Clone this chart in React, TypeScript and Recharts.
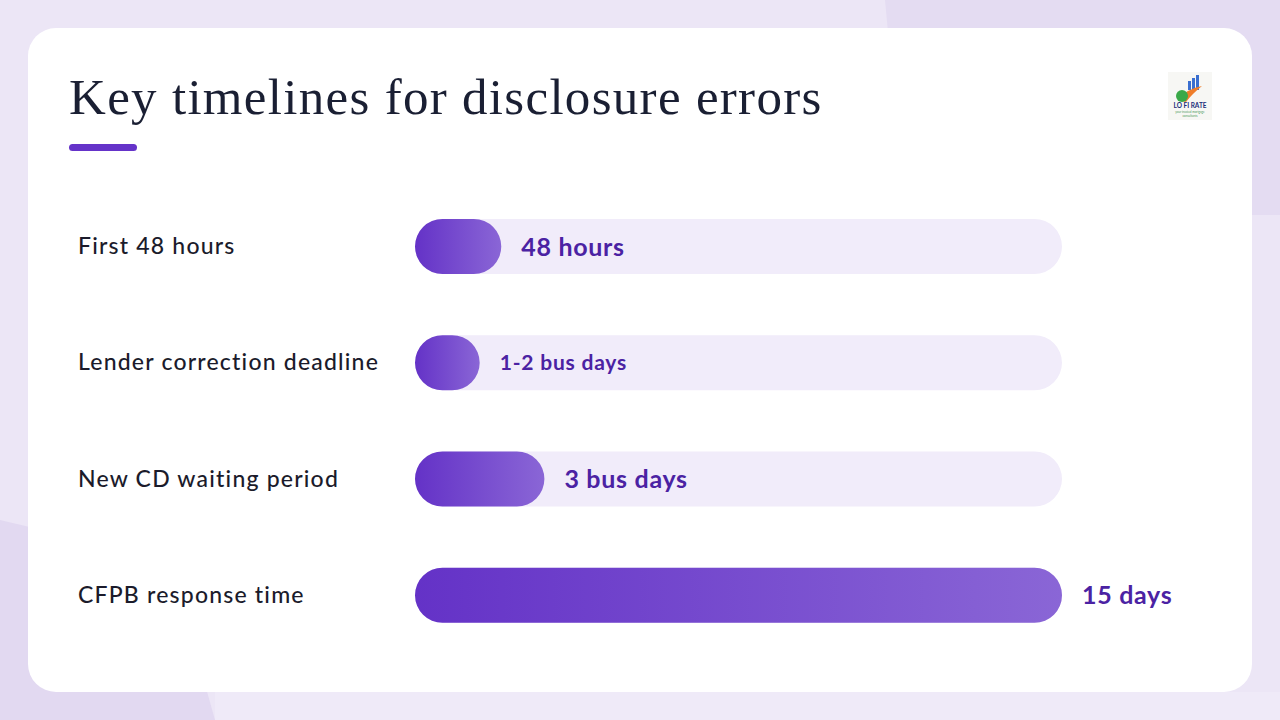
import { BarChart, Bar, XAxis, YAxis, LabelList } from 'recharts';

// timeline rows, top to bottom
const categories = ['First 48 hours', 'Lender correction deadline', 'New CD waiting period', 'CFPB response time'];
const durationDays = [2, 1.5, 3, 15];
const valueLabels = ['48 hours', '1-2 bus days', '3 bus days', '15 days'];

const chartData = categories.map((name, i) => ({
  name,
  days: durationDays[i],
  label: valueLabels[i],
}));

const SANS = 'Lato, "Open Sans", sans-serif';

function CategoryTick({ y, payload }: any) {
  return (
    <text x={78} y={y} dy={8} textAnchor="start" fill="#1b1b2b" fontFamily={SANS} fontSize={23} fontWeight={500} letterSpacing={1.2}>
      {payload.value}
    </text>
  );
}

function ValueLabel({ x, y, width, height, value }: any) {
  // longer labels were set a bit smaller in the original
  const small = String(value).length > 10;
  return (
    <text
      x={x + width + 20}
      y={y + height / 2}
      dy={small ? 7 : 9}
      textAnchor="start"
      fill="#4b22a3"
      fontFamily={SANS}
      fontSize={small ? 21 : 25}
      fontWeight={700}
      letterSpacing={small ? 0.8 : 0.7}
    >
      {value}
    </text>
  );
}

function Logo() {
  return (
    <svg x={1168} y={72} width={44} height={48} viewBox="0 0 44 48">
      <rect width={44} height={48} fill="#f7f7f4" />
      <rect x={24} y={6} width={3} height={12} fill="#3a6fd0" />
      <rect x={28} y={3} width={3} height={15} fill="#3a6fd0" />
      <rect x={20} y={9} width={3} height={9} fill="#3a6fd0" />
      <path d="M10 28 Q20 16 34 14 Q24 22 18 30 Z" fill="#ef7d2a" />
      <circle cx={14} cy={24} r={6} fill="#3aa948" />
      <text x={22} y={36} textAnchor="middle" fontSize={6.5} fontWeight={700} fill="#1b2f7a" fontFamily={SANS}>LO FI RATE</text>
      <text x={22} y={41} textAnchor="middle" fontSize={3} fill="#4b9a5a" fontFamily={SANS}>your trusted mortgage</text>
      <text x={22} y={45} textAnchor="middle" fontSize={3} fill="#4b9a5a" fontFamily={SANS}>consultants</text>
    </svg>
  );
}

export default function App() {
  return (
    <div style={{ position: 'fixed', left: 0, top: 0, width: 1280, height: 720, overflow: 'hidden', background: '#ece6f6' }}>
      <svg width={1280} height={720} style={{ position: 'absolute', left: 0, top: 0 }}>
        <polygon points="885,0 1280,0 1280,215 905,215" fill="#e4dcf2" />
        <polygon points="0,520 170,560 215,720 0,720" fill="#e2d9f1" />
        <polygon points="215,692 1280,692 1280,720 215,720" fill="#efeaf8" />
        <rect x={28} y={28} width={1224} height={664} rx={28} fill="#ffffff" />
        <text x={69} y={114} fontFamily='"Liberation Serif", serif' fontSize={51} fill="#1a1f33" letterSpacing={1.3}>
          Key timelines for disclosure errors
        </text>
        <rect x={69} y={144} width={68} height={7} rx={3.5} fill="#6533c9" />
        <Logo />
      </svg>
      <div style={{ position: 'absolute', left: 0, top: 0 }}>
        <BarChart
          width={1280}
          height={720}
          data={chartData}
          layout="vertical"
          margin={{ top: 188, right: 218, bottom: 67, left: 78 }}
          barSize={55}
        >
          <defs>
            <linearGradient id="barGrad" x1="0" y1="0" x2="1" y2="0">
              <stop offset="0%" stopColor="#6432c7" />
              <stop offset="100%" stopColor="#8a66d6" />
            </linearGradient>
          </defs>
          <XAxis type="number" domain={[0, 15]} hide />
          <YAxis
            type="category"
            dataKey="name"
            width={337}
            axisLine={false}
            tickLine={false}
            tick={<CategoryTick />}
          />
          <Bar
            dataKey="days"
            fill="url(#barGrad)"
            radius={27.5}
            background={{ fill: '#f1ecfa', radius: 27.5 } as any}
            isAnimationActive={false}
          >
            <LabelList dataKey="label" content={<ValueLabel />} />
          </Bar>
        </BarChart>
      </div>
    </div>
  );
}
